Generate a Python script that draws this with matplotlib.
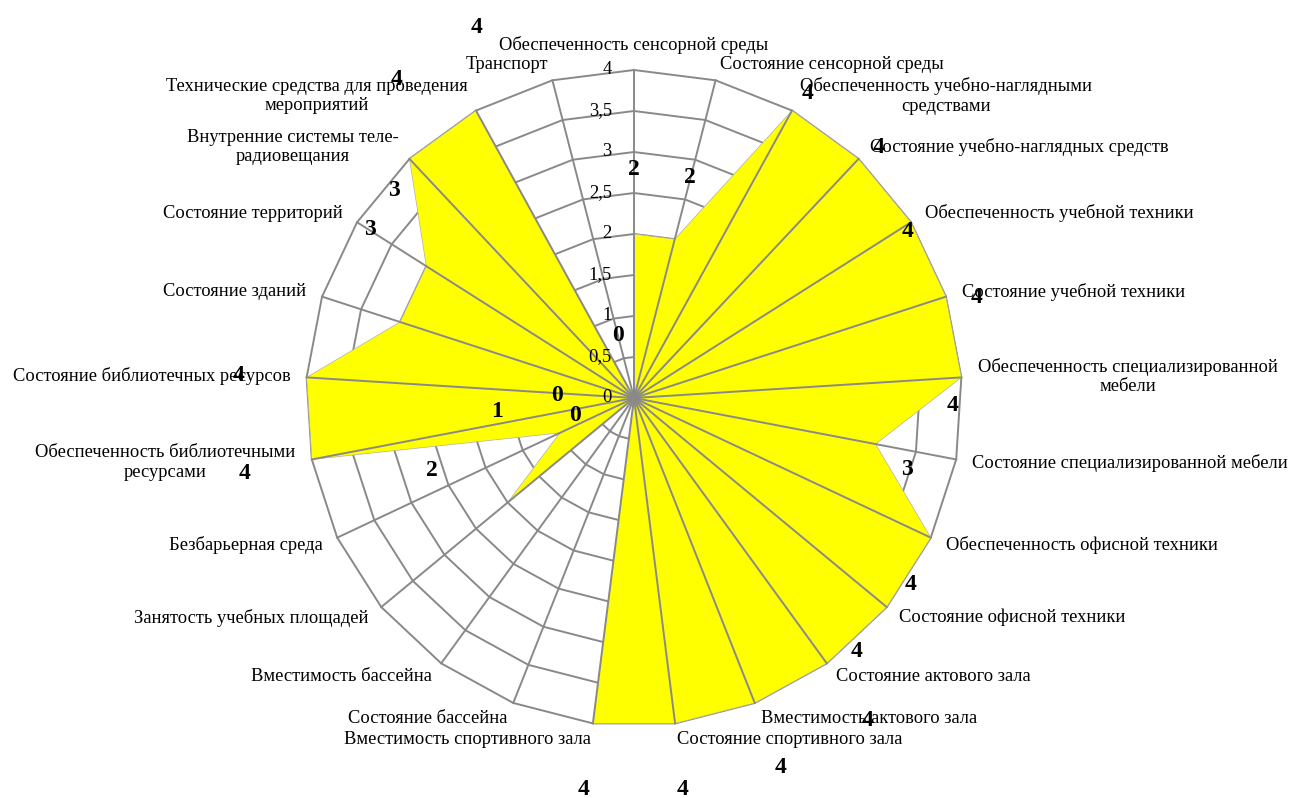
import numpy as np
import matplotlib.pyplot as plt

##################################################################
# data

categories = [
    'Обеспеченность сенсорной среды',
    'Состояние сенсорной среды',
    'Обеспеченность учебно-наглядными\nсредствами',
    'Состояние учебно-наглядных средств',
    'Обеспеченность учебной техники',
    'Состояние учебной техники',
    'Обеспеченность специализированной\nмебели',
    'Состояние специализированной мебели',
    'Обеспеченность офисной техники',
    'Состояние офисной техники',
    'Состояние актового зала',
    'Вместимость актового зала',
    'Состояние спортивного зала',
    'Вместимость спортивного зала',
    'Состояние бассейна',
    'Вместимость бассейна',
    'Занятость учебных площадей',
    'Безбарьерная среда',
    'Обеспеченность библиотечными\nресурсами',
    'Состояние библиотечных ресурсов',
    'Состояние зданий',
    'Состояние территорий',
    'Внутренние системы теле-\nрадиовещания',
    'Технические средства для проведения\nмероприятий',
    'Транспорт',
]

values = [2, 2, 4, 4, 4, 4, 4, 3, 4, 4, 4, 4, 4, 4, 0, 0, 2, 1, 4, 4, 3, 3, 4, 4, 0]

ticks = [0, 0.5, 1, 1.5, 2, 2.5, 3, 3.5, 4]
tick_labels = ['0', '0,5', '1', '1,5', '2', '2,5', '3', '3,5', '4']

# where the value labels sit (angle in degrees clockwise from top, radius in value units)
lab_theta = [0, 14.3, 29.7, 44.4, 58.7, 73.7, 91.4, 104.6, 123.9, 138.7, 144.1, 158.4, 172.9,
             187.3, 253.0, 272.2, 250.4, 264.2, 259.1, 273.3, 302.6, 310.8, 323.3, 337.0, 345.7]
lab_r = [2.79, 2.77, 4.28, 4.27, 3.90, 4.35, 3.89, 3.44, 4.07, 4.12, 4.85, 4.84, 4.81,
         4.81, 0.75, 0.94, 2.62, 1.68, 4.84, 4.83, 3.82, 3.87, 4.84, 4.91, 0.79]

##################################################################

def xy(theta, r):
    return r * np.sin(theta), r * np.cos(theta)


plt.rcParams['font.family'] = ['Liberation Serif', 'DejaVu Serif']

n = len(categories)
theta = 2 * np.pi * np.arange(n) / n
rmax = ticks[-1]
grid_col = '#898989'
fs = 13.3

fig = plt.figure(figsize=(12.9, 7.98), dpi=100)
ax = fig.add_axes([0, 0, 1, 1])
ppu = 82.0  # pixels per value unit
ax.set_xlim(-634 / ppu, (1290 - 634) / ppu)
ax.set_ylim(-400 / ppu, 398 / ppu)
ax.axis('off')

# rings
th_closed = np.append(theta, theta[0])
for t in ticks[1:]:
    x, y = xy(th_closed, t)
    ax.plot(x, y, color=grid_col, lw=1.4, zorder=1)

# data polygon
vals = np.array(values, dtype=float)
x, y = xy(theta, vals)
ax.fill(x, y, facecolor='#ffff00', edgecolor='#b0b0b0', lw=0.5, zorder=2)

# spokes
for th in theta:
    x, y = xy(np.array([th, th]), np.array([0, rmax]))
    ax.plot(x, y, color=grid_col, lw=1.4, zorder=3)

# tick labels along the top spoke
for t, lab in zip(ticks, tick_labels):
    ax.text(-0.27, t, lab, ha='right', va='center', fontsize=fs, zorder=4)

# category labels
for th, cat in zip(theta, categories):
    x, y = xy(th, 4.2)
    s = np.sin(th)
    if abs(s) < 1e-6:
        ax.text(x, y, cat, ha='center', va='bottom', fontsize=fs, zorder=4)
    else:
        ha = 'left' if s > 0 else 'right'
        ax.text(x, y, cat, ha=ha, va='center', multialignment='center',
                fontsize=fs, linespacing=1.2, zorder=4)

# value labels
for v, lt, lr in zip(values, lab_theta, lab_r):
    x, y = xy(np.deg2rad(lt), lr)
    ax.text(x, y, str(v), ha='center', va='center', fontsize=17,
            fontweight='bold', zorder=5)

plt.savefig('out.png', dpi=100, facecolor='white')
